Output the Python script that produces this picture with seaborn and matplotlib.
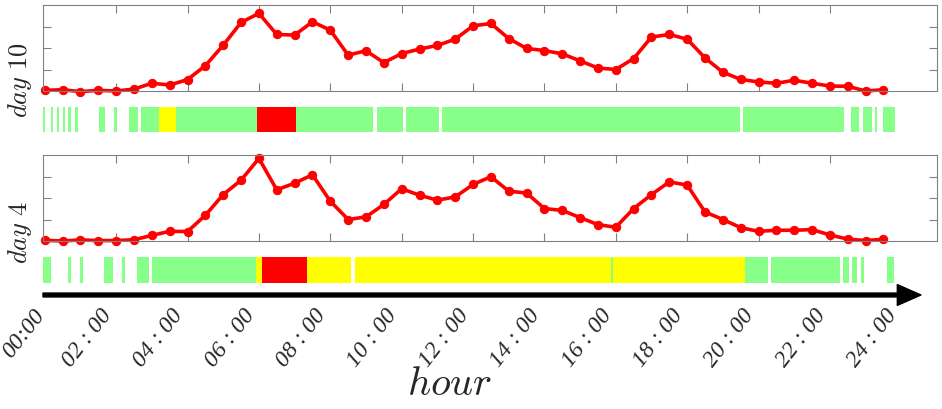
import numpy as np
import matplotlib
matplotlib.use("Agg")
import matplotlib.pyplot as plt
import matplotlib.transforms as mtransforms
import seaborn as sns

# half-hour slots, 00:00 .. 23:30
hours = np.arange(0, 24, 0.5)

day10 = [0.03, 0.06, -0.03, 0.03, 0.00, 0.09, 0.36, 0.28, 0.53, 1.18, 2.13, 3.19,
         3.61, 2.63, 2.60, 3.22, 2.83, 1.67, 1.87, 1.32, 1.74, 1.95, 2.12, 2.41,
         3.03, 3.14, 2.44, 1.98, 1.88, 1.73, 1.40, 1.07, 1.00, 1.51, 2.51, 2.63,
         2.41, 1.54, 0.87, 0.54, 0.42, 0.36, 0.50, 0.36, 0.23, 0.22, 0.00, 0.06]
day4 = [0.03, 0.00, 0.05, 0.02, 0.02, 0.06, 0.26, 0.45, 0.44, 1.20, 2.16, 2.83,
        3.84, 2.38, 2.69, 3.08, 1.85, 1.00, 1.12, 1.70, 2.43, 2.13, 1.90, 2.05,
        2.63, 2.99, 2.32, 2.23, 1.51, 1.42, 1.09, 0.76, 0.64, 1.51, 2.16, 2.75,
        2.60, 1.35, 1.00, 0.62, 0.45, 0.50, 0.50, 0.53, 0.28, 0.09, 0.02, 0.08]

# state strips: start hour, end hour, state (g = green, y = yellow, r = red)
d10_start = [-0.06, 0.18, 0.34, 0.51, 0.66, 0.85, 1.52, 1.94, 2.37, 2.69, 3.19,
             3.68, 5.96, 7.04, 9.30, 10.12, 11.13, 19.57, 22.59, 22.92, 23.26, 23.49]
d10_end = [0.01, 0.24, 0.41, 0.57, 0.74, 0.93, 1.69, 2.01, 2.60, 3.19, 3.68,
           5.96, 7.04, 9.21, 10.03, 11.04, 19.48, 22.40, 22.82, 23.17, 23.33, 23.82]
d10_state = list("ggggggggggyg" "rgggggggggg")

d4_start = [-0.08, 0.66, 0.99, 1.66, 2.16, 2.58, 3.00, 5.92, 6.10, 7.34, 8.68,
            15.87, 15.93, 19.62, 20.35, 22.36, 22.61, 22.86, 23.61]
d4_end = [0.17, 0.74, 1.07, 1.92, 2.25, 2.91, 5.92, 6.10, 7.34, 8.58, 15.87,
          15.93, 19.62, 20.26, 22.28, 22.53, 22.77, 22.96, 23.79]
d4_state = list("gggggggyryygyggggg" "g")

tick_hours = list(range(0, 25, 2))
tick_labels = ["00:00"] + [f"{h:02d} : 00" for h in tick_hours[1:]]

STATE_COLORS = {"g": "#88ff88", "y": "#ffff00", "r": "#ff0000"}
RED = "#ff0000"
GREY = "#808080"
W, H = 942, 409
XLIM = (-0.05, 25.0)


def box(l, t, r, b):
    return [l / W, 1 - b / H, (r - l) / W, (b - t) / H]


sns.set_theme(style="white")
plt.rcParams["mathtext.fontset"] = "cm"

fig = plt.figure(figsize=(W / 100, H / 100), dpi=100)


def line_panel(rect, vals):
    ax = fig.add_axes(rect)
    sns.lineplot(x=hours, y=vals, ax=ax, color=RED, linewidth=2.6,
                 marker="o", markersize=6, markeredgecolor=RED, clip_on=False)
    ax.set_xlim(*XLIM)
    ax.set_ylim(0, 4)
    ax.set_xticks(tick_hours[1:-1])
    ax.set_yticks([1, 2, 3])
    ax.set_xticklabels([])
    ax.set_yticklabels([])
    ax.tick_params(direction="in", length=6, width=0.8, color=GREY,
                   top=True, right=True, bottom=True, left=True)
    for sp in ax.spines.values():
        sp.set_color(GREY)
        sp.set_linewidth(0.8)
    ax.set_xlabel("")
    ax.set_ylabel("")
    return ax


def strip_panel(rect, starts, ends, states):
    ax = fig.add_axes(rect)
    for s, e, c in zip(starts, ends, states):
        ax.barh(0.5, e - s, left=s, height=1, color=STATE_COLORS[c], linewidth=0)
    ax.set_xlim(*XLIM)
    ax.set_ylim(0, 1)
    ax.axis("off")
    return ax


line_panel(box(43, 5, 937, 91), day10)
strip_panel(box(43, 107, 937, 132), d10_start, d10_end, d10_state)
line_panel(box(43, 155, 937, 241), day4)
strip_panel(box(43, 257, 937, 283), d4_start, d4_end, d4_state)

fig.text(20 / W, 1 - 80 / H, r"$day\ 10$", rotation=90, ha="center", va="center", fontsize=19)
fig.text(20 / W, 1 - 233 / H, r"$day\ 4$", rotation=90, ha="center", va="center", fontsize=19)

# time axis with arrow
axx = fig.add_axes(box(43, 290, 937, 300))
axx.set_xlim(*XLIM)
axx.set_ylim(0, 1)
for sp in axx.spines.values():
    sp.set_visible(False)
axx.set_yticks([])
axx.set_xticks(tick_hours)
axx.set_xticklabels(tick_labels, rotation=52, ha="right", va="top",
                    fontsize=17, fontstyle="italic", family="Liberation Serif")
axx.tick_params(axis="x", length=0, pad=4)
# nudge the first label so it stays inside the figure
first = axx.get_xticklabels()[0]
first.set_transform(first.get_transform()
                    + mtransforms.ScaledTranslation(3 / 72, 0, fig.dpi_scale_trans))
axx.annotate("", xy=(24.55, 0.5), xytext=(XLIM[0], 0.5),
             arrowprops=dict(facecolor="black", edgecolor="black", width=2.8,
                             headwidth=15, headlength=17, shrink=0))

fig.text(450 / W, 1 - 384 / H, r"$hour$", ha="center", va="center", fontsize=29)

fig.savefig("out.png", dpi=100)
